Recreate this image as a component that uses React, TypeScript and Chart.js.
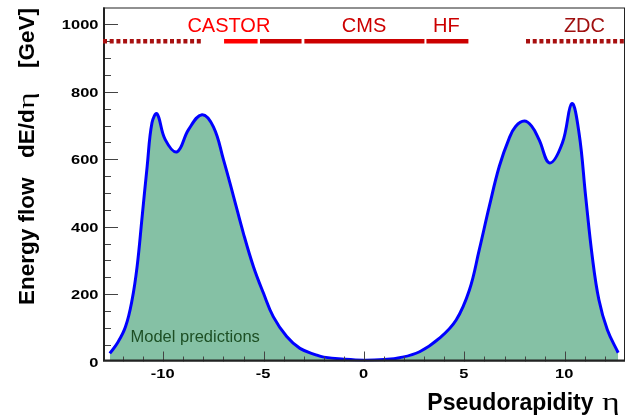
import { useEffect, useRef } from "react";
import { Chart, registerables } from "chart.js";

Chart.register(...registerables);

// Model prediction: energy flow dE/deta vs pseudorapidity
const etaPoints = [
  -12.66, -12.29, -11.88, -11.55, -11.3, -11.05, -10.8, -10.56, -10.31, -9.9,
  -9.31, -8.74, -8.07, -7.5, -7.0, -6.5, -6.01, -5.51, -5.01, -4.52,
  -3.85, -3.19, -2.36, -2.0, -1.0, 0, 1.0, 1.77, 2.77, 3.76,
  4.59, 5.25, 5.74, 6.24, 6.74, 7.23, 7.55, 7.98, 8.35, 8.72, 9.25,
  9.88, 10.35, 10.71, 11.04, 11.37, 11.7, 12.12, 12.66,
];
const energyFlow = [
  24, 54, 103, 183, 282, 430, 579, 708, 735, 658,
  622, 688, 732, 696, 599, 490, 381, 282, 203, 133,
  74, 39, 19, 13, 7, 4, 6, 11, 29, 69,
  123, 212, 331, 460, 579, 662, 697, 713, 698, 658, 589,
  648, 765, 678, 490, 311, 183, 94, 26,
];

// Axis ticks
const xMajorTicks = [-10, -5, 0, 5, 10];
const yMajorTicks = [0, 200, 400, 600, 800, 1000];

// Detector acceptance segments (eta ranges) drawn at a fixed level
const detectorLevel = 950;
const segmentStart = [-13, -6.97, -5.18, -2.97, 3.11, 8.07];
const segmentEnd = [-8.1, -5.3, -3.11, 3.01, 5.2, 13];
const segmentDetector = ["ZDC", "CASTOR", "HF", "CMS", "HF", "ZDC"];

const detectorLabels = ["CASTOR", "CMS", "HF", "ZDC"];
const detectorLabelEta = [-6.73, 0, 4.1, 10.98];

const detectorStyle: Record<string, { color: string; text: string; dotted: boolean }> = {
  ZDC: { color: "#a81010", text: "#a01010", dotted: true },
  CASTOR: { color: "#ff0000", text: "#ff0000", dotted: false },
  HF: { color: "#cc0000", text: "#cc0000", dotted: false },
  CMS: { color: "#cc0000", text: "#cc0000", dotted: false },
};

const SANS = "'Liberation Sans', Arial, Helvetica, sans-serif";
const SERIF = "'Liberation Serif', 'DejaVu Serif', serif";

const rootStyle = {
  id: "rootStyle",
  afterDatasetsDraw(chart: any) {
    const { ctx, chartArea: a, scales } = chart;
    const x = scales.x;
    const y = scales.y;
    ctx.save();

    // ticks (inside, ROOT style)
    ctx.strokeStyle = "#444";
    ctx.lineWidth = 1;
    for (let v = -12; v <= 12; v++) {
      const px = Math.round(x.getPixelForValue(v)) + 0.5;
      const len = v % 5 === 0 ? 10 : 5;
      ctx.beginPath();
      ctx.moveTo(px, a.bottom);
      ctx.lineTo(px, a.bottom - len);
      ctx.stroke();
    }
    for (let v = 50; v <= 1000; v += 50) {
      const py = Math.round(y.getPixelForValue(v)) + 0.5;
      const len = v % 200 === 0 ? 15 : 8;
      ctx.beginPath();
      ctx.moveTo(a.left, py);
      ctx.lineTo(a.left + len, py);
      ctx.stroke();
    }

    // frame
    ctx.strokeStyle = "#222";
    ctx.lineWidth = 1;
    ctx.strokeRect(a.left + 0.5, a.top + 0.5, a.right - a.left - 1, a.bottom - a.top - 1);
    ctx.lineWidth = 2;
    ctx.beginPath();
    ctx.moveTo(a.left + 1, a.top);
    ctx.lineTo(a.left + 1, a.bottom);
    ctx.moveTo(a.left, a.bottom - 1);
    ctx.lineTo(a.right, a.bottom - 1);
    ctx.stroke();

    // detector segments
    const ly = y.getPixelForValue(detectorLevel);
    for (let i = 0; i < segmentStart.length; i++) {
      const st = detectorStyle[segmentDetector[i]];
      ctx.strokeStyle = st.color;
      ctx.lineWidth = 4.5;
      ctx.lineCap = "butt";
      ctx.setLineDash(st.dotted ? [4, 2.7] : []);
      ctx.beginPath();
      ctx.moveTo(x.getPixelForValue(segmentStart[i]), ly);
      ctx.lineTo(x.getPixelForValue(segmentEnd[i]), ly);
      ctx.stroke();
    }
    ctx.setLineDash([]);

    // detector labels
    ctx.font = `20px ${SANS}`;
    ctx.textAlign = "center";
    ctx.textBaseline = "alphabetic";
    for (let i = 0; i < detectorLabels.length; i++) {
      ctx.fillStyle = detectorStyle[detectorLabels[i]].text;
      ctx.fillText(detectorLabels[i], x.getPixelForValue(detectorLabelEta[i]), 32);
    }

    // Model predictions
    ctx.font = `16.5px ${SANS}`;
    ctx.textAlign = "left";
    ctx.fillStyle = "#1d4f24";
    ctx.fillText("Model predictions", 130.5, 341.5);

    // tick labels (bold, slightly wide)
    ctx.fillStyle = "#000";
    ctx.font = `bold 13.5px ${SANS}`;
    const sx = 1.22;
    for (const v of xMajorTicks) {
      const px = x.getPixelForValue(v);
      ctx.save();
      ctx.translate(px - 0.5, a.bottom + 16);
      ctx.scale(sx, 1);
      ctx.textAlign = "center";
      ctx.fillText(String(v), 0, 0);
      ctx.restore();
    }
    for (const v of yMajorTicks) {
      const py = y.getPixelForValue(v);
      ctx.save();
      ctx.translate(98.5, py + 5);
      ctx.scale(sx, 1);
      ctx.textAlign = "right";
      ctx.fillText(String(v), 0, 0);
      ctx.restore();
    }

    // x axis title
    ctx.textAlign = "right";
    ctx.font = `bold 23px ${SANS}`;
    ctx.fillText("Pseudorapidity", 593.5, 410);
    ctx.textAlign = "left";
    ctx.font = `25px ${SERIF}`;
    ctx.save();
    ctx.translate(602, 410);
    ctx.scale(1.35, 1);
    ctx.fillText("\u03b7", 0, 0);
    ctx.restore();

    // y axis title (rotated)
    ctx.save();
    ctx.translate(34, 0);
    ctx.rotate(-Math.PI / 2);
    ctx.textAlign = "left";
    ctx.font = `bold 22.5px ${SANS}`;
    ctx.fillText("Energy flow", -305, 0);
    const dEd = "dE/d";
    ctx.fillText(dEd, -158, 0);
    const w1 = ctx.measureText(dEd).width;
    ctx.font = `24px ${SERIF}`;
    ctx.save();
    ctx.translate(-158 + w1 + 0.5, 0);
    ctx.scale(1.3, 1);
    ctx.fillText("\u03b7", 0, 0);
    ctx.restore();
    ctx.font = `bold 22.5px ${SANS}`;
    ctx.textAlign = "right";
    ctx.fillText("[GeV]", -8, 0);
    ctx.restore();

    ctx.restore();
  },
};

export default function App() {
  const ref = useRef<HTMLCanvasElement>(null);
  useEffect(() => {
    const canvas = ref.current!;
    const chart = new Chart(canvas, {
      type: "line",
      data: {
        datasets: [
          {
            data: etaPoints.map((e, i) => ({ x: e, y: energyFlow[i] })),
            borderColor: "#0000ff",
            borderWidth: 3,
            backgroundColor: "#85c1a5",
            fill: "origin",
            pointRadius: 0,
            tension: 0.4,
          },
        ],
      },
      options: {
        animation: false,
        responsive: false,
        maintainAspectRatio: false,
        layout: { padding: { top: 7.5, right: 3, left: 0, bottom: 0 } },
        plugins: { legend: { display: false }, tooltip: { enabled: false } },
        scales: {
          x: {
            type: "linear",
            min: -13,
            max: 13,
            grid: { display: false },
            border: { display: false },
            ticks: { display: false },
            afterFit: (s: any) => {
              s.height = 53.5;
            },
          },
          y: {
            min: 0,
            max: 1050,
            grid: { display: false },
            border: { display: false },
            ticks: { display: false },
            afterFit: (s: any) => {
              s.width = 103;
            },
          },
        },
      },
      plugins: [rootStyle],
    } as any);
    return () => chart.destroy();
  }, []);
  return (
    <canvas
      ref={ref}
      width={628}
      height={415}
      style={{ position: "absolute", left: 0, top: 0, background: "#fff" }}
    />
  );
}
